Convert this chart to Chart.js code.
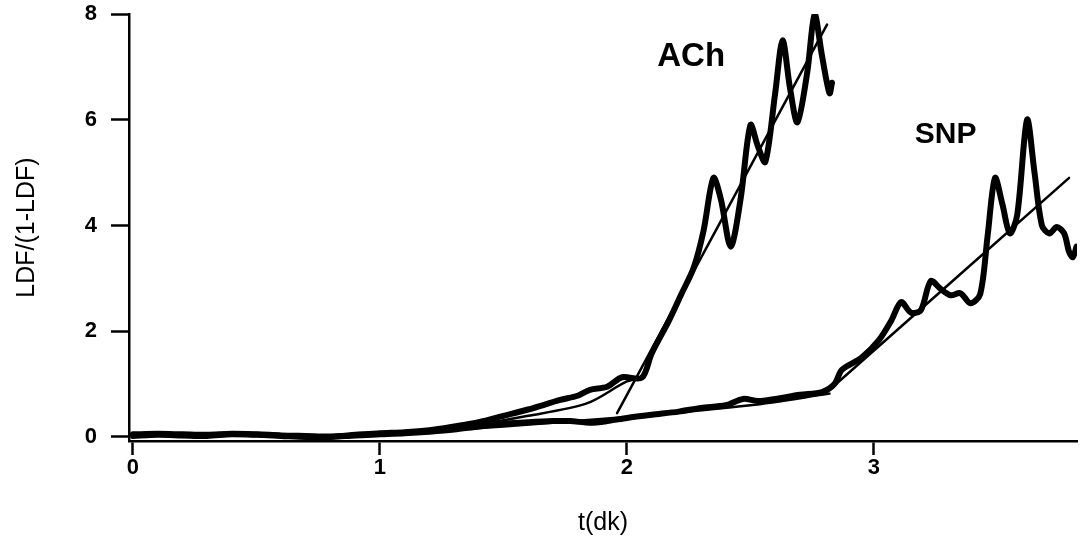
<!DOCTYPE html>
<html>
<head>
<meta charset="utf-8">
<script src="https://cdn.jsdelivr.net/npm/chart.js@4.4.1/dist/chart.umd.min.js"></script>
<style>
  html, body { margin: 0; padding: 0; background: #fff; }
  #wrap { width: 1086px; height: 549px; }
</style>
</head>
<body>
<div id="wrap"><canvas id="c" width="1086" height="549"></canvas></div>
<script>
// 축 눈금
const xTicks = [0, 1, 2, 3];
const yTicks = [0, 2, 4, 6, 8];

// ACh 측정 곡선 (t, LDF/(1-LDF))
const achT = [0, 0.1, 0.2, 0.3, 0.4, 0.5, 0.6, 0.7, 0.8, 0.9, 1.0, 1.1, 1.2, 1.3, 1.4, 1.5, 1.6, 1.73, 1.8, 1.85, 1.92, 1.98, 2.06, 2.1, 2.17, 2.22, 2.27, 2.31, 2.35, 2.38, 2.42, 2.46, 2.5, 2.53, 2.56, 2.6, 2.63, 2.66, 2.69, 2.73, 2.76, 2.79, 2.82, 2.83];
const achVal = [0.05, 0.06, 0.05, 0.04, 0.06, 0.05, 0.03, 0.02, 0.01, 0.04, 0.07, 0.09, 0.13, 0.2, 0.28, 0.4, 0.52, 0.7, 0.78, 0.89, 0.95, 1.13, 1.12, 1.58, 2.2, 2.7, 3.2, 3.9, 4.9, 4.5, 3.6, 4.5, 5.9, 5.5, 5.2, 6.5, 7.5, 6.6, 5.95, 6.9, 8.0, 7.2, 6.5, 6.7];

// ACh 적합선 (완만한 구간, 급경사 구간)
const achFit1T = [1.0, 1.3, 1.6, 1.84, 2.0, 2.07];
const achFit1Val = [0.06, 0.17, 0.4, 0.64, 1.05, 1.12];
const achFit2T = [1.96, 2.81];
const achFit2Val = [0.45, 7.8];

// SNP 측정 곡선
const snpT = [0, 0.1, 0.2, 0.3, 0.4, 0.5, 0.6, 0.7, 0.8, 0.9, 1.0, 1.1, 1.2, 1.3, 1.4, 1.5, 1.6, 1.7, 1.77, 1.85, 1.92, 2.0, 2.1, 2.21, 2.3, 2.4, 2.47, 2.53, 2.6, 2.7, 2.79, 2.84, 2.87, 2.95, 3.02, 3.07, 3.11, 3.15, 3.19, 3.23, 3.27, 3.31, 3.35, 3.39, 3.43, 3.46, 3.49, 3.52, 3.55, 3.58, 3.62, 3.65, 3.68, 3.71, 3.74, 3.77, 3.79, 3.805, 3.82];
const snpVal = [0.02, 0.04, 0.03, 0.02, 0.05, 0.04, 0.02, 0.0, 0.0, 0.03, 0.05, 0.07, 0.1, 0.14, 0.2, 0.25, 0.28, 0.3, 0.3, 0.27, 0.3, 0.36, 0.42, 0.48, 0.55, 0.6, 0.72, 0.68, 0.72, 0.8, 0.85, 1.0, 1.27, 1.5, 1.83, 2.2, 2.55, 2.35, 2.4, 2.95, 2.8, 2.68, 2.72, 2.53, 2.7, 3.8, 4.9, 4.4, 3.85, 4.2, 6.0, 5.0, 4.0, 3.85, 3.97, 3.85, 3.5, 3.4, 3.6];

// SNP 적합선
const snpFit1T = [1.0, 1.5, 2.0, 2.5, 2.82];
const snpFit1Val = [0.05, 0.2, 0.38, 0.6, 0.82];
const snpFit2T = [2.81, 3.79];
const snpFit2Val = [0.85, 4.9];

// 곡선 이름 표시
const labelText = ["ACh", "SNP"];
const labelT = [2.26, 3.29];
const labelVal = [7.18, 5.71];

const toPoints = (ts, vs) => ts.map((t, i) => ({ x: t, y: vs[i] }));

const FONT = "'Liberation Sans', Arial, sans-serif";

function curve(ts, vs, width) {
  return {
    data: toPoints(ts, vs),
    showLine: true,
    borderColor: "#000",
    backgroundColor: "#000",
    borderWidth: width,
    pointRadius: 0,
    tension: 0.3,
    borderCapStyle: "round",
    borderJoinStyle: "round",
  };
}

const curveLabels = {
  id: "curveLabels",
  afterDatasetsDraw(chart) {
    const { ctx, scales } = chart;
    ctx.save();
    ctx.fillStyle = "#000";
    ctx.textAlign = "center";
    ctx.textBaseline = "middle";
    labelText.forEach((txt, i) => {
      ctx.font = `bold ${i === 0 ? 33 : 30}px ${FONT}`;
      ctx.fillText(txt, scales.x.getPixelForValue(labelT[i]), scales.y.getPixelForValue(labelVal[i]));
    });
    ctx.restore();
  },
};

new Chart(document.getElementById("c"), {
  type: "scatter",
  data: {
    datasets: [
      curve(achT, achVal, 6),
      curve(snpT, snpVal, 6),
      curve(achFit1T, achFit1Val, 2.5),
      curve(achFit2T, achFit2Val, 2.5),
      curve(snpFit1T, snpFit1Val, 2.5),
      curve(snpFit2T, snpFit2Val, 2.5),
    ],
  },
  options: {
    responsive: false,
    animation: false,
    events: [],
    layout: { padding: { top: 14, right: 9, left: 0, bottom: 0 } },
    plugins: { legend: { display: false }, tooltip: { enabled: false } },
    scales: {
      x: {
        type: "linear",
        min: -0.016,
        max: 3.822,
        afterFit: (s) => { s.height = 108; s.paddingLeft = 0; s.paddingRight = 0; },
        afterBuildTicks: (s) => { s.ticks = xTicks.map((v) => ({ value: v })); },
        border: { display: true, color: "#000", width: 2.5 },
        grid: { drawOnChartArea: false, drawTicks: true, tickLength: 14, tickWidth: 2.5, tickColor: "#000" },
        ticks: { color: "#000", padding: 0, font: { family: FONT, size: 22, weight: "bold" } },
        title: {
          display: true,
          text: "t(dk)",
          color: "#000",
          padding: { top: 0, bottom: 11 },
          font: { family: FONT, size: 25 },
        },
      },
      y: {
        type: "linear",
        min: -0.076,
        max: 8,
        afterFit: (s) => { s.width = 129; s.paddingTop = 0; s.paddingBottom = 0; },
        afterBuildTicks: (s) => { s.ticks = yTicks.map((v) => ({ value: v })); },
        border: { display: true, color: "#000", width: 2.5 },
        grid: { drawOnChartArea: false, drawTicks: true, tickLength: 18, tickWidth: 2.5, tickColor: "#000" },
        ticks: { color: "#000", padding: 14, font: { family: FONT, size: 22, weight: "bold" } },
        title: {
          display: true,
          text: "LDF/(1-LDF)",
          color: "#000",
          padding: { top: 12, bottom: 0 },
          font: { family: FONT, size: 25 },
        },
      },
    },
  },
  plugins: [curveLabels],
});
</script>
</body>
</html>
